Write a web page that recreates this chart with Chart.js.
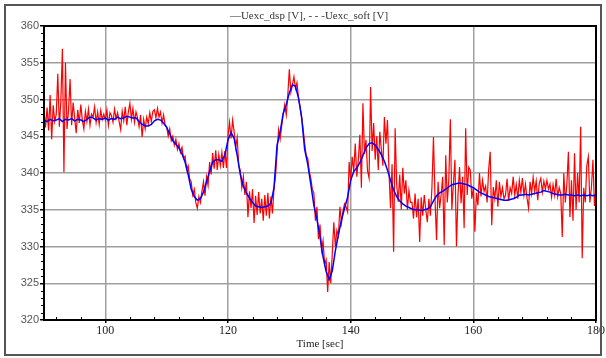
<!DOCTYPE html>
<html><head><meta charset="utf-8">
<script src="https://cdn.jsdelivr.net/npm/chart.js@4"></script>
<style>html,body{margin:0;padding:0;background:#fff}#wrap{width:606px;height:358px;position:relative}</style>
</head><body><div id="wrap"><canvas id="c" width="606" height="358"></canvas></div>
<script>
const LEGEND_TEXT = '\u2014Uexc_dsp [V], - - -Uexc_soft [V]';
const X_TITLE = 'Time [sec]';
const X_TICKS = [100, 120, 140, 160, 180];
const Y_TICKS = [320, 325, 330, 335, 340, 345, 350, 355, 360];

const RED_START = 90, RED_STEP = 0.25;
const redValues = [
348.5,346.2,348.9,345.8, 350.6,344.6,349.2,347.0, 348.0,353.5,346.3,349.8, 356.9,340.1,355.0,346.0, 348.5,352.8,346.5,349.6,
347.5,345.4,348.6,346.8, 349.3,347.2,346.0,348.4, 347.0,348.7,346.5,348.0, 347.6,349.0,346.9,348.3, 346.6,348.5,347.3,348.0,
347.2,348.6,346.5,348.2, 347.8,346.9,348.7,347.4, 348.2,347.0,345.9,348.4, 347.1,349.0,346.5,348.3, 349.5,347.3,348.8,346.9,
348.3,347.5,346.3,347.9, 344.9,347.3,346.0,347.6, 346.7,348.2,347.0,348.4, 348.6,347.5,348.8,347.6, 348.3,346.8,347.9,346.5,
346.3,345.0,346.0,344.4, 345.0,343.8,344.6,343.2, 344.0,342.8,343.5,342.0, 342.3,340.5,341.0,339.2, 338.8,337.0,337.8,336.0,
335.2,336.8,336.0,337.5, 338.8,336.9,339.5,338.3, 341.5,339.8,342.7,340.6, 343.1,340.4,342.5,341.0, 342.8,340.7,343.0,340.7,
345.0,346.9,344.7,347.2, 345.6,343.5,344.8,341.0, 340.4,338.0,339.5,337.0, 338.8,334.0,337.5,335.2, 337.8,333.2,336.9,334.3,
337.4,334.5,336.5,333.5, 337.0,334.2,337.3,333.8, 336.8,334.5,337.9,339.6, 342.9,345.9,344.6,346.4, 348.0,349.3,347.9,350.6,
354.1,351.0,352.0,353.1, 351.5,352.3,350.2,349.0, 347.6,346.0,344.0,342.4, 342.0,340.2,339.3,337.8, 337.3,333.5,335.4,331.0,
333.0,329.5,330.8,327.6, 328.2,323.8,327.9,325.0, 329.0,333.3,330.0,332.2, 331.5,335.4,333.2,334.8, 335.8,335.4,334.7,341.5,
339.0,342.2,340.2,344.0, 339.5,341.8,345.2,338.0, 349.5,342.6,344.5,340.3, 339.3,351.7,343.0,346.8, 341.8,345.0,340.4,345.6,
343.2,341.0,347.6,344.0, 347.2,340.0,335.2,341.2, 329.3,346.1,338.5,336.1, 339.8,335.0,340.7,337.2, 339.0,335.0,337.6,336.0,
336.0,333.8,337.2,334.0, 336.5,330.6,336.7,334.2, 337.0,335.0,333.3,336.5, 334.2,338.0,344.9,336.5, 330.9,338.8,335.2,337.0,
339.5,330.2,342.4,336.0, 339.0,347.3,335.0,338.5, 341.8,330.0,337.0,340.8, 335.9,339.5,332.5,346.1, 337.0,340.8,340.4,336.5,
338.0,332.0,337.3,335.6, 340.0,336.8,339.0,337.5, 338.2,336.0,340.5,342.9, 332.9,338.1,336.5,339.0, 335.4,338.8,336.8,338.0,
336.5,337.0,339.2,336.2, 338.0,337.2,339.5,337.0, 338.4,336.5,339.0,337.4, 339.3,337.0,338.5,336.6, 335.2,338.8,337.2,339.4,
337.5,338.9,336.3,338.6, 339.3,337.4,338.9,337.8, 339.0,337.8,338.5,336.7, 338.4,337.0,339.2,336.8, 338.0,337.2,331.3,340.0,
336.0,338.5,342.9,334.0, 339.0,333.5,342.7,335.0, 340.0,336.0,346.3,328.4, 338.0,336.0,341.0,342.2, 336.0,338.0,341.8,335.5,
338.0
];

const BLUE_START = 90, BLUE_STEP = 0.5;
const blueValues = [
347.2,347.0,347.3,347.1,347.2,347.4,347.0,347.3,347.2,347.4,
347.1,347.3,347.2,347.0,347.3,347.6,347.5,347.2,347.4,347.3,
347.5,347.2,347.4,347.3,347.6,347.4,347.5,347.7,347.6,347.5,
347.5,347.0,346.6,346.4,346.4,346.6,347.1,347.3,347.2,346.8,
346.2,345.3,344.4,343.9,343.4,342.6,341.5,339.8,337.8,336.8,
336.3,336.5,337.4,338.8,340.2,341.5,341.8,341.8,341.6,342.5,
344.5,345.5,344.7,342.4,339.8,338.2,337.3,336.6,336.0,335.5,
335.4,335.3,335.4,335.5,335.9,338.0,343.8,345.6,348.1,349.3,
350.9,352.0,351.8,350.2,347.6,343.2,341.2,338.5,335.6,333.7,
331.3,328.6,326.6,325.5,326.7,329.4,331.6,333.6,335.2,336.7,
339.0,340.2,340.7,341.4,342.4,343.4,344.0,344.1,343.8,343.2,
342.5,341.6,340.4,339.0,337.7,336.8,336.2,335.8,335.5,335.3,
335.1,335.0,335.0,334.9,335.0,335.1,335.4,336.2,336.9,337.3,
337.5,337.8,338.1,338.4,338.5,338.6,338.6,338.5,338.4,338.2,
338.0,337.7,337.4,337.2,337.0,336.8,336.7,336.6,336.5,336.4,
336.3,336.3,336.4,336.5,336.7,337.0,337.0,337.1,337.0,337.1,
337.2,337.3,337.4,337.6,337.5,337.4,337.2,337.1,337.0,337.0,
337.1,337.0,337.0,336.9,337.0,336.9,337.0,336.9,337.0,336.9,
337.0
];

const redPts = redValues.map((v, i) => ({x: RED_START + i * RED_STEP, y: v}));
const bluePts = blueValues.map((v, i) => ({x: BLUE_START + i * BLUE_STEP, y: v}));

const framePlugin = {
  id: 'frame',
  beforeDraw(chart) {
    const ctx = chart.ctx;
    ctx.save();
    ctx.fillStyle = '#fff';
    ctx.fillRect(0, 0, chart.width, chart.height);
    ctx.restore();
  },
  afterDraw(chart) {
    const ctx = chart.ctx, a = chart.chartArea;
    const xs = chart.scales.x, ys = chart.scales.y;
    ctx.save();
    ctx.strokeStyle = '#000';
    ctx.lineWidth = 2;
    ctx.strokeRect(a.left, a.top, a.right - a.left, a.bottom - a.top);
    ctx.lineWidth = 1;
    ctx.beginPath();
    for (let v = 321; v < 360; v++) {
      if (v % 5 === 0) continue;
      const y = Math.round(ys.getPixelForValue(v)) + 0.5;
      ctx.moveTo(a.left - 3, y); ctx.lineTo(a.left, y);
    }
    for (let t = 92; t < 180; t += 4) {
      if (t % 20 === 0) continue;
      const x = Math.round(xs.getPixelForValue(t)) + 0.5;
      ctx.moveTo(x, a.bottom); ctx.lineTo(x, a.bottom - 3);
    }
    ctx.stroke();
    ctx.fillStyle = '#333';
    ctx.font = '11px "Liberation Serif", serif';
    ctx.textAlign = 'center';
    ctx.textBaseline = 'middle';
    ctx.fillText(LEGEND_TEXT, 309, 16);
    ctx.strokeStyle = '#555';
    ctx.lineWidth = 2;
    ctx.strokeRect(5, 5, 596, 350);
    ctx.restore();
  }
};

new Chart(document.getElementById('c'), {
  type: 'line',
  data: {
    datasets: [
      {label: 'Uexc_soft', data: bluePts, borderColor: '#0000ff', borderWidth: 1.5, pointRadius: 0, tension: 0, order: 0},
      {label: 'Uexc_dsp', data: redPts, borderColor: '#ff0000', borderWidth: 1.2, pointRadius: 0, tension: 0, order: 1}
    ]
  },
  options: {
    responsive: false,
    animation: false,
    devicePixelRatio: 1,
    layout: {padding: {left: 0, right: 9, top: 26, bottom: 0}},
    plugins: {legend: {display: false}, tooltip: {enabled: false}, title: {display: false}},
    scales: {
      x: {
        type: 'linear', min: 90, max: 180,
        afterBuildTicks: s => { s.ticks = X_TICKS.map(v => ({value: v})); },
        afterFit: s => { s.height = 38; },
        grid: {color: '#a0a0a0', lineWidth: 1.5, tickLength: 3, tickColor: '#000'},
        border: {color: '#000', width: 2},
        ticks: {font: {family: '"Liberation Serif", serif', size: 12}, color: '#222', padding: 1, maxRotation: 0},
        title: {display: true, text: X_TITLE, font: {family: '"Liberation Serif", serif', size: 11}, color: '#222', padding: {top: 0, bottom: 7}}
      },
      y: {
        min: 320, max: 360,
        afterBuildTicks: s => { s.ticks = Y_TICKS.map(v => ({value: v})); },
        afterFit: s => { s.width = 44; },
        grid: {color: '#a0a0a0', lineWidth: 1.5, tickLength: 4, tickColor: '#000'},
        border: {color: '#000', width: 2},
        ticks: {font: {family: '"Liberation Sans", sans-serif', size: 11}, color: '#555', padding: 1}
      }
    }
  },
  plugins: [framePlugin]
});
</script>
</body></html>
